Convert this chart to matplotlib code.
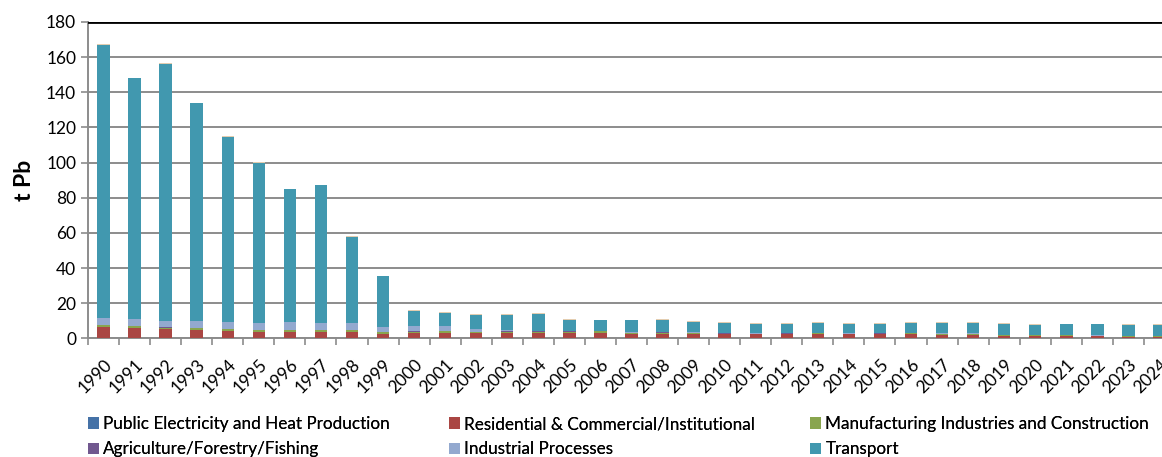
import matplotlib.pyplot as plt
import numpy as np

years = [str(y) for y in range(1990, 2025)]

# t Pb per source
public_elec = [0.3, 0.3, 0.4, 0.4, 0.4, 0.4, 0.4, 0.4, 0.4, 0.3,
               0.2, 0.2, 0.2, 0.2, 0.2, 0.2, 0.2, 0.2, 0.2, 0.2,
               0.1, 0.1, 0.1, 0.1, 0.1, 0.1, 0.1, 0.1, 0.1, 0.1,
               0.1, 0.1, 0.1, 0.1, 0.1]
residential = [6.0, 5.6, 5.1, 4.3, 3.8, 3.4, 3.4, 3.2, 3.4, 2.4,
               2.8, 2.6, 2.6, 2.6, 2.6, 2.6, 2.6, 2.3, 2.3, 2.3,
               2.2, 2.2, 2.2, 2.4, 2.2, 2.2, 2.4, 1.8, 1.8, 1.4,
               1.4, 1.2, 1.0, 0.8, 0.7]
manufacturing = [1.0, 1.0, 0.6, 1.1, 1.0, 1.0, 1.0, 1.0, 1.0, 1.0,
                 0.8, 1.2, 0.7, 1.0, 1.0, 1.0, 1.1, 0.7, 0.8, 0.7,
                 0.4, 0.3, 0.4, 0.4, 0.3, 0.4, 0.4, 0.6, 0.6, 0.2,
                 0.3, 0.3, 0.3, 0.3, 0.3]
agriculture = [0.1] * 35
industrial = [4.0, 3.8, 3.7, 4.0, 3.8, 3.8, 4.2, 3.8, 3.8, 2.5,
              3.1, 2.8, 1.7, 0.6, 0.4, 0.3, 0.4, 0.3, 0.3, 0.3,
              0.2, 0.2, 0.2, 0.2, 0.2, 0.2, 0.2, 0.3, 0.3, 0.2,
              0.2, 0.2, 0.2, 0.2, 0.3]
transport = [155.6, 137.2, 146.3, 123.9, 105.7, 91.3, 75.6, 78.5, 49.2, 29.0,
             8.7, 7.7, 8.2, 9.0, 9.7, 6.4, 6.0, 6.8, 6.9, 5.9,
             5.9, 5.4, 5.3, 5.7, 5.4, 5.3, 5.7, 6.0, 6.0, 6.3,
             5.7, 6.1, 6.3, 6.3, 6.3]
other = [0.3, 0.3, 0.3, 0.3, 0.3, 0.3, 0.3, 0.3, 0.3, 0.2] + [0.2] * 25

series = [
    ('Public Electricity and Heat Production', public_elec, '#4572A7'),
    ('Residential & Commercial/Institutional', residential, '#AA4643'),
    ('Manufacturing Industries and Construction', manufacturing, '#89A54E'),
    ('Agriculture/Forestry/Fishing', agriculture, '#71588F'),
    ('Industrial Processes', industrial, '#93A9CF'),
    ('Transport', transport, '#4198AF'),
    ('_other', other, '#E3CDB0'),
]

plt.rcParams['font.family'] = ['Lato', 'DejaVu Sans']

fig = plt.figure(figsize=(11.62, 4.57), dpi=100)
# plot area runs past the right edge, like the cropped original
ax = fig.add_axes([88 / 1162, (457 - 338.3) / 457, 1087 / 1162, 316.3 / 457])

x = np.arange(len(years))
bottom = np.zeros(len(years))
for name, vals, col in series:
    ax.bar(x, vals, width=0.4, bottom=bottom, color=col, label=name, zorder=3)
    bottom += np.array(vals)

ax.set_xlim(-0.5, len(years) - 0.5)
ax.set_ylim(0, 180)
ax.set_yticks(range(0, 181, 20))
ax.yaxis.grid(True, color='#8c8c8c', linewidth=1.4, zorder=0)
ax.axhline(180, color='black', linewidth=2, zorder=4)

ax.set_xticks(x)
ax.set_xticklabels(years, rotation=45, ha='right', rotation_mode='anchor', fontsize=12.5)
ax.set_xticks(np.arange(-0.5, len(years), 1), minor=True)
ax.tick_params(axis='x', which='major', length=0, pad=13)
ax.tick_params(axis='x', which='minor', length=5, width=1.2, color='#8c8c8c')
ax.tick_params(axis='y', length=5, width=1.2, color='#8c8c8c', labelsize=12.5)

for s in ['top', 'right']:
    ax.spines[s].set_visible(False)
for s in ['left', 'bottom']:
    ax.spines[s].set_color('#8c8c8c')
    ax.spines[s].set_linewidth(1.4)

ax.set_ylabel('t Pb', fontsize=16.5, fontweight='bold', labelpad=8)

# legend: three columns, filled row by row, one small legend per column
handles, labels = ax.get_legend_handles_labels()
col_x = [88, 449, 810]
for c in range(3):
    idx = [c, c + 3]
    leg = fig.legend([handles[i] for i in idx], [labels[i] for i in idx],
                     loc='upper left', bbox_to_anchor=(col_x[c] / 1162, 1 - 416 / 457),
                     ncol=1, frameon=False, fontsize=12.3, handlelength=0.65,
                     handleheight=0.65, handletextpad=0.25, labelspacing=0.55,
                     borderpad=0, borderaxespad=0)
    fig.add_artist(leg)

plt.savefig('out.png', dpi=100)
